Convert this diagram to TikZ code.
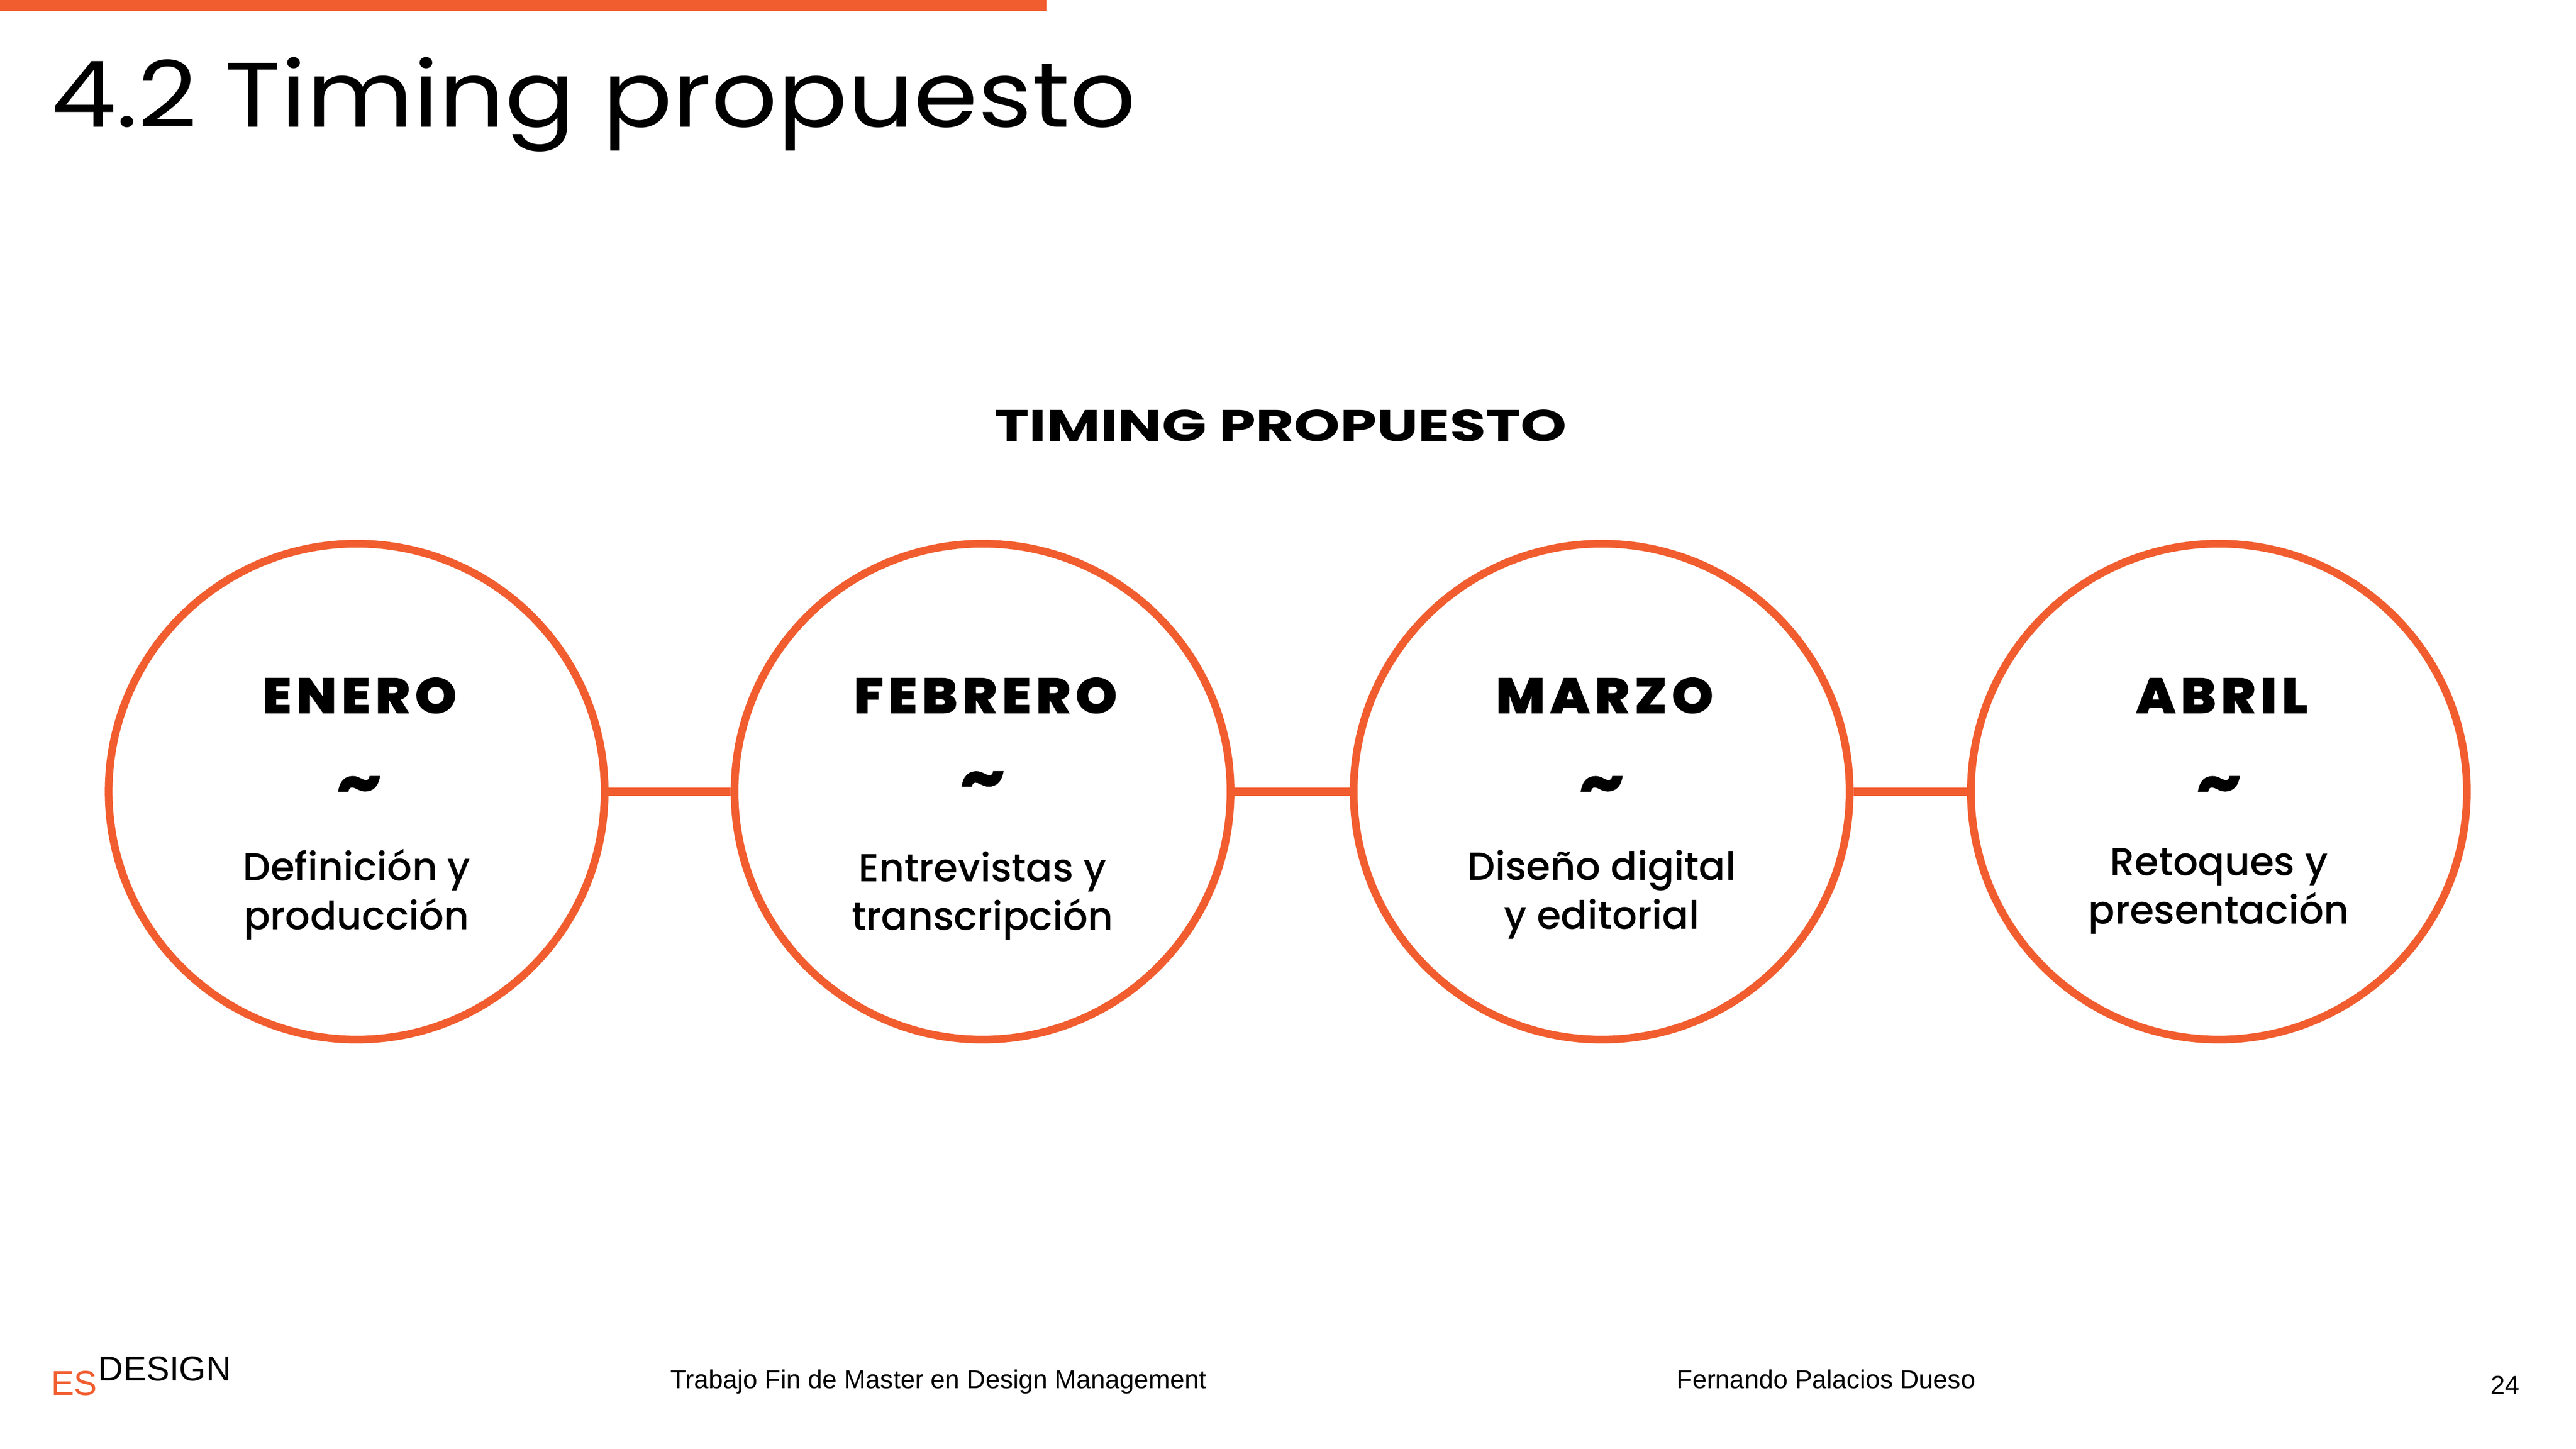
\documentclass[tikz,border=0pt]{standalone}
\usepackage{fontspec}
\setmainfont{Poppins}
\newfontfamily\titlefont[FakeStretch=1.13]{Poppins}
\newfontfamily\headfont[FakeStretch=1.33]{Poppins Bold}
\newfontfamily\mesfont[FakeStretch=1.07,LetterSpace=10,FakeBold=1.5]{Poppins ExtraBold}
\newfontfamily\tareafont{Poppins Medium}
\newfontfamily\footfont{Liberation Sans}
\usetikzlibrary{positioning}
\definecolor{naranja}{HTML}{F15D2F}

\tikzset{
  mes circle/.style={circle, draw=naranja, line width=0.16cm, minimum size=10.27cm, inner sep=0pt},
  enlace/.style={draw=naranja, line width=0.17cm},
  mes/.style={font=\mesfont\fontsize{29}{29}\selectfont, inner sep=0pt, text height=0.72cm, text depth=0pt},
  tilde/.style={font=\mesfont\fontsize{36}{36}\selectfont, inner sep=0pt},
  tarea/.style={font=\tareafont\fontsize{23}{28.7}\selectfont, align=center, inner sep=0pt},
  pie/.style={font=\footfont\fontsize{15.3}{15.3}\selectfont, inner sep=0pt, anchor=base west},
  marca/.style={font=\footfont\fontsize{20.4}{20.4}\selectfont, inner sep=0pt, anchor=base west},
}

\begin{document}
\begin{tikzpicture}[on grid]
  \useasboundingbox (0,0) rectangle (53.34,-30);
  \fill[naranja] (0,0) rectangle (21.67,-0.22);
  \node[font=\titlefont\fontsize{54}{54}\selectfont, inner sep=0pt, anchor=base west] (titulo) at (1.05,-2.63) {4.2 Timing propuesto};
  \node[font=\headfont\fontsize{26}{26}\selectfont, inner sep=0pt, anchor=base] (cabecera) at (26.52,-9.14) {TIMING PROPUESTO};

  \node[mes circle] (enero) at (7.385,-16.395) {};
  \node[mes circle] (febrero) [right=12.96cm of enero] {};
  \node[mes circle] (marzo) [right=12.82cm of febrero] {};
  \node[mes circle] (abril) [right=12.78cm of marzo] {};

  \path[enlace] (enero) -- (febrero);
  \path[enlace] (febrero) -- (marzo);
  \path[enlace] (marzo) -- (abril);

  \node[mes] (m_enero) [above=1.99cm of enero, xshift=0.06cm] {ENERO};
  \node[mes] (m_febrero) [above=1.99cm of febrero, xshift=0.06cm] {FEBRERO};
  \node[mes] (m_marzo) [above=1.99cm of marzo, xshift=0.06cm] {MARZO};
  \node[mes] (m_abril) [above=1.99cm of abril, xshift=0.06cm] {ABRIL};

  \node[tilde] (t_enero) [above=0.04cm of enero, xshift=0.05cm] {\char"007E};
  \node[tilde] (t_febrero) [above=0.14cm of febrero] {\char"007E};
  \node[tilde] (t_marzo) [above=0.04cm of marzo] {\char"007E};
  \node[tilde] (t_abril) [above=0.04cm of abril] {\char"007E};

  \node[tarea] (d_enero) [below=2.13cm of enero] {Definición y\\producción};
  \node[tarea] (d_febrero) [below=2.16cm of febrero] {Entrevistas y\\transcripción};
  \node[tarea] (d_marzo) [below=2.13cm of marzo] {Diseño digital\\y editorial};
  \node[tarea] (d_abril) [below=2.06cm of abril] {Retoques y\\presentación};

  \node[marca, text=naranja] (es) at (1.05,-28.89) {ES};
  \node[marca] (design) at (2.03,-28.60) {DESIGN};
  \node[pie] (trabajo) at (13.88,-28.76) {Trabajo Fin de Master en Design Management};
  \node[pie] (autor) at (34.71,-28.76) {Fernando Palacios Dueso};
  \node[pie] (pagina) at (51.57,-28.87) {24};
\end{tikzpicture}
\end{document}
